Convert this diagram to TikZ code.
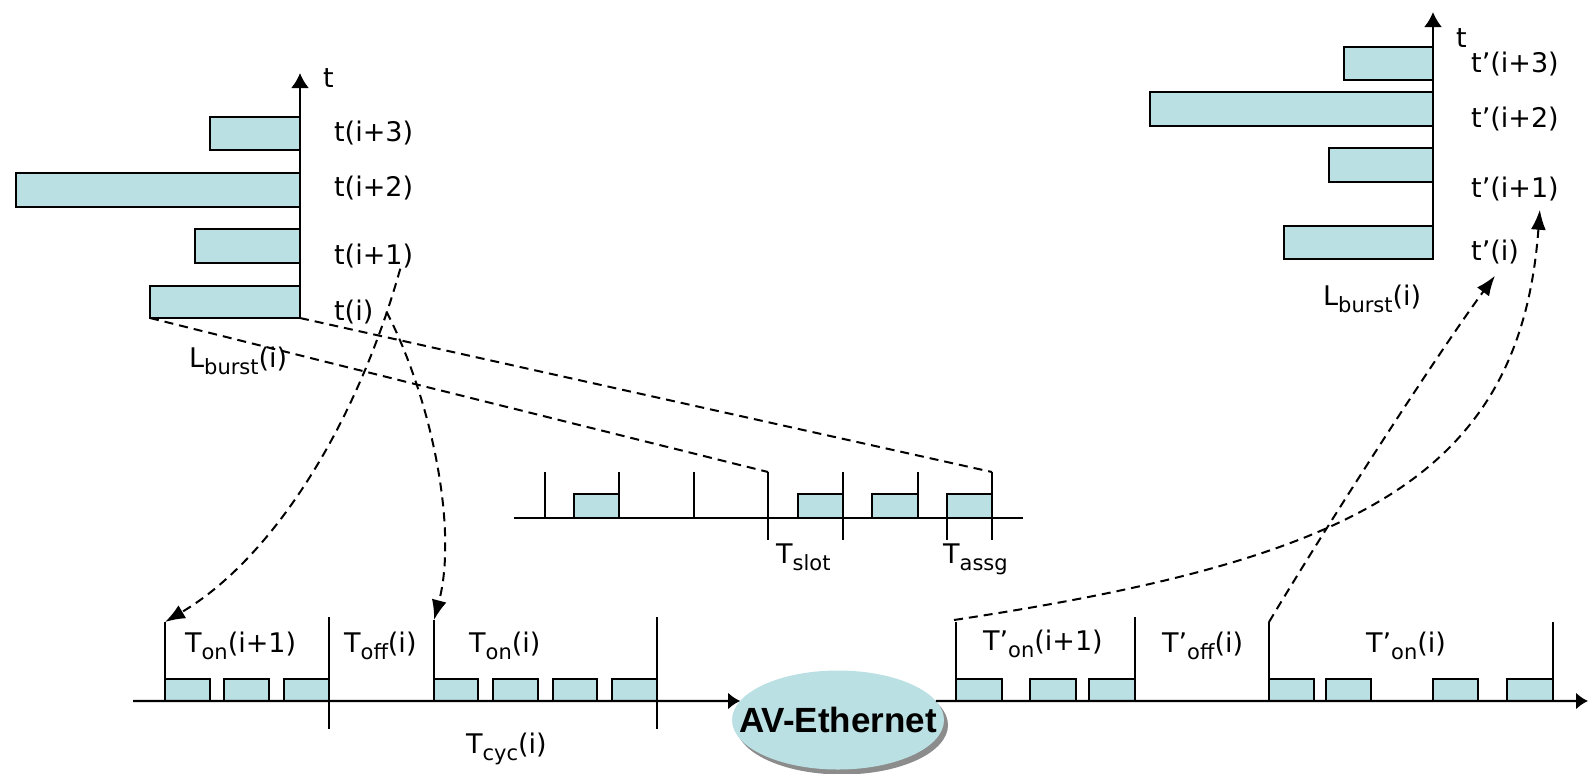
\documentclass[tikz,border=0pt]{standalone}
\usepackage{fontspec}
\setmainfont{DejaVu Sans}
\newfontfamily\avfont{Liberation Sans}
\usetikzlibrary{arrows.meta,shapes.geometric,shadows}
\definecolor{slotblue}{RGB}{187,224,227}
\newcommand{\lowtxt}[1]{\raisebox{-3.8pt}{\fontsize{10.5}{12}\selectfont #1}}

\begin{document}
\begin{tikzpicture}[x=0.5pt, y=-0.5pt, line width=1.15pt,
	bar/.style={draw, fill=slotblue, line width=1.35pt, inner sep=0pt, outer sep=0pt, anchor=south east},
	lbl/.style={anchor=base west, inner sep=0pt},
	link/.style={dash pattern=on 4.5pt off 3pt, line width=1pt},
	dashtip/.style={-{Latex[length=10pt,width=7.5pt]}},
	axisarrow/.style={-{Latex[length=7.5pt,width=9pt]}},
	font=\fontsize{13.5}{16}\selectfont]
\useasboundingbox (0,0) rectangle (1589,773);

% bursts at the source
\node[bar, minimum width=45pt, minimum height=16.5pt] (b3) at (300,150) {};
\node[bar, minimum width=142pt, minimum height=17pt] (b2) at (300,207) {};
\node[bar, minimum width=52.5pt, minimum height=17pt] (b1) at (300,263) {};
\node[bar, minimum width=75pt, minimum height=16pt] (b0) at (300,318) {};
\draw[axisarrow] (b0.south east) -- (300,73);
\node[lbl] (tl) at (322,87) {t};
\node[lbl] (ti3) at (333,141) {t(i+3)};
\node[lbl] (ti2) at (333,196) {t(i+2)};
\node[lbl] (ti1) at (333,264) {t(i+1)};
\node[lbl] (ti0) at (333,320) {t(i)};
\node[lbl] (lb) at (188,367) {L\lowtxt{burst}(i)};

% bursts at the sink
\node[bar, minimum width=44.5pt, minimum height=16.5pt] (c3) at (1433,80) {};
\node[bar, minimum width=141.5pt, minimum height=17pt] (c2) at (1433,126) {};
\node[bar, minimum width=52pt, minimum height=17pt] (c1) at (1433,182) {};
\node[bar, minimum width=74.5pt, minimum height=16.5pt] (c0) at (1433,259) {};
\draw[axisarrow] (c0.south east) -- (1433,12);
\node[lbl] (tr) at (1455,47) {t};
\node[lbl] (tp3) at (1470,72) {t’(i+3)};
\node[lbl] (tp2) at (1470,127) {t’(i+2)};
\node[lbl] (tp1) at (1470,197) {t’(i+1)};
\node[lbl] (tp0) at (1470,260) {t’(i)};
\node[lbl] (lbr) at (1322,305) {L\lowtxt{burst}(i)};

% slot grid
\filldraw[fill=slotblue] (574,494) rectangle (619,518) (798,494) rectangle (843,518)
	(872,494) rectangle (918,518) (947,494) rectangle (992,518);
\draw (514,518) -- (1023,518);
\draw (545,472) -- (545,518) (619,472) -- (619,518) (694,472) -- (694,518)
	(768,472) -- (768,540) (843,472) -- (843,540) (918,472) -- (918,518)
	(992,472) -- (992,540) (947,518) -- (947,540);
\coordinate (slot) at (768,472);
\coordinate (assg) at (992,472);
\node[lbl] (tslot) at (775,563) {T\lowtxt{slot}};
\node[lbl] (tassg) at (942,563) {T\lowtxt{assg}};

% network
\node[ellipse, fill=slotblue, inner sep=0pt, outer sep=0pt, minimum width=106pt, minimum height=49.5pt,
	drop shadow={shadow xshift=2pt, shadow yshift=-2.5pt, fill=black!45, opacity=1}] (avnet) at (838,720) {};
\node[font=\avfont\fontsize{17.5}{20}\selectfont\bfseries] (avname) at (avnet.center) {AV-Ethernet};

% sender timeline
\coordinate (lstart) at (133,701);
\filldraw[fill=slotblue] (165,679) rectangle (210,701) (224,679) rectangle (269,701)
	(284,679) rectangle (329,701) (434,679) rectangle (478,701) (493,679) rectangle (538,701)
	(553,679) rectangle (597,701) (612,679) rectangle (657,701);
\draw[-{Latex[length=6pt,width=8.5pt]}] (lstart) -- (avnet.169);
\draw (165,622) -- (165,701) (329,617) -- (329,729) (434,620) -- (434,701) (657,617) -- (657,729);
\coordinate (on1) at (165,622);
\coordinate (on0) at (434,620);
\node[lbl] (ton1) at (184,652) {T\lowtxt{on}(i+1)};
\node[lbl] (toff) at (343,652) {T\lowtxt{off}(i)};
\node[lbl] (ton0) at (468,652) {T\lowtxt{on}(i)};
\node[lbl] (tcyc) at (465,753) {T\lowtxt{cyc}(i)};

% receiver timeline
\filldraw[fill=slotblue] (956,679) rectangle (1002,701) (1030,679) rectangle (1076,701)
	(1089,679) rectangle (1135,701) (1269,679) rectangle (1314,701) (1326,679) rectangle (1371,701)
	(1433,679) rectangle (1478,701) (1507,679) rectangle (1553,701);
\draw[-{Latex[length=6pt,width=8.5pt]}] (avnet.11) -- (1588,701);
\draw (956,622) -- (956,701) (1135,617) -- (1135,701) (1269,622) -- (1269,701) (1553,622) -- (1553,701);
\coordinate (pon1) at (954,620);
\coordinate (pon0) at (1269,622);
\node[lbl] (tpon1) at (982,650) {T’\lowtxt{on}(i+1)};
\node[lbl] (tpoff) at (1161,652) {T’\lowtxt{off}(i)};
\node[lbl] (tpon0) at (1365,652) {T’\lowtxt{on}(i)};

% mapping
\draw[link] (b0.south west) -- (slot);
\draw[link] (b0.south east) -- (assg);
\draw[link, dashtip] ([xshift=-7pt]ti1.south east) .. controls (355,430) and (270,560) .. (on1);
\draw[link, dashtip] ([xshift=6pt]ti0.east) .. controls (432,400) and (458,530) .. (on0);
\draw[link, dashtip] (pon0) .. controls (1330,520) and (1440,350) .. ([yshift=-5.5pt]tp0.south);
\draw[link, dashtip] (pon1) .. controls (1350,560) and (1520,480) .. ([xshift=-10pt,yshift=-4pt]tp1.south east);
\end{tikzpicture}
\end{document}
